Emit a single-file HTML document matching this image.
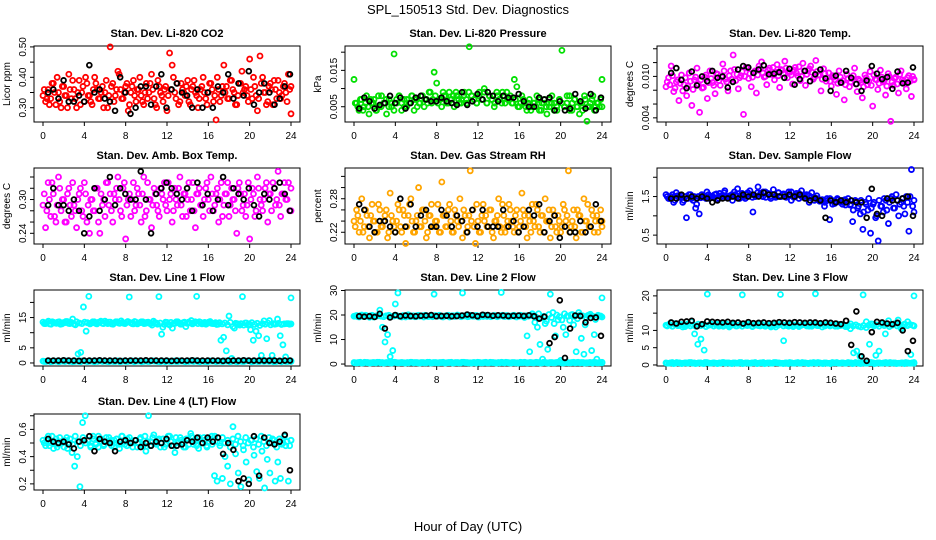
<!DOCTYPE html>
<html><head><meta charset="utf-8"><style>
html,body{margin:0;padding:0;background:#fff}
svg{display:block;font-family:"Liberation Sans",sans-serif}
</style></head><body>
<svg id="chart" width="936" height="540" viewBox="0 0 936 540">
<text x="468" y="14" text-anchor="middle" font-size="13">SPL_150513  Std. Dev. Diagnostics</text>
<text x="468" y="531" text-anchor="middle" font-size="13">Hour of Day (UTC)</text>
</svg>
<script>
const xTicks = [0,4,8,12,16,20,24];
const titles = ["Stan. Dev. Li-820 CO2","Stan. Dev. Li-820 Pressure","Stan. Dev. Li-820 Temp.","Stan. Dev. Amb. Box Temp.","Stan. Dev. Gas Stream RH","Stan. Dev. Sample Flow","Stan. Dev. Line 1 Flow","Stan. Dev. Line 2 Flow","Stan. Dev. Line 3 Flow","Stan. Dev. Line 4 (LT) Flow"];
const yTitles = ["Licor ppm","kPa","degrees C","degrees C","percent","ml/min","ml/min","ml/min","ml/min","ml/min"];
const yDomains = [[0.253,0.503],[0.0008,0.0217],[0.0034,0.0144],[0.221,0.356],[0.199,0.335],[0.27,2.24],[-1,24.1],[-0.8,30.2],[-0.3,21.7],[0.155,0.713]];
const yTicks = [[0.30,0.35,0.40,0.45,0.50],[0.005,0.010,0.015,0.020],[0.004,0.006,0.008,0.010,0.012,0.014],[0.24,0.26,0.28,0.30,0.32,0.34],[0.22,0.24,0.26,0.28,0.30,0.32],[0.5,1.0,1.5,2.0],[0,5,10,15,20],[0,10,20,30],[0,5,10,15,20],[0.2,0.3,0.4,0.5,0.6,0.7]];
const yLabels = [["0.30","","0.40","","0.50"],["0.005","","0.015",""],["0.004","","","0.010","",""],["0.24","","","0.30","",""],["0.22","","","0.28","",""],["0.5","","1.5",""],["0","5","","15",""],["0","10","20","30"],["0","5","10","","20"],["0.2","","0.4","","0.6",""]];
const colors = ["#ff0000","#00e000","#ff00ff","#ff00ff","#ffa500","#0000ff","#00ffff","#00ffff","#00ffff","#00ffff"];

const co2Sd = [0.34,0.32,0.36,0.33,0.38,0.31,0.35,0.30,0.37,0.34,0.41,0.33,0.36,0.30,0.39,0.35,0.32,0.38,0.34,0.31,0.40,0.36,0.33,0.37,0.35,0.30,0.50,0.38,0.34,0.42,0.36,0.33,0.37,0.29,0.35,0.39,0.32,0.36,0.34,0.31,0.38,0.35,0.41,0.33,0.30,0.37,0.34,0.36,0.29,0.48,0.44,0.35,0.38,0.32,0.36,0.34,0.39,0.31,0.37,0.35,0.30,0.36,0.40,0.33,0.35,0.38,0.32,0.26,0.36,0.34,0.44,0.37,0.33,0.39,0.35,0.31,0.38,0.42,0.36,0.34,0.46,0.33,0.37,0.29,0.47,0.40,0.35,0.32,0.38,0.31,0.36,0.39,0.33,0.37,0.35,0.41,0.28];
const co2SdB = [0.36,0.33,0.31,0.38,0.35,0.40,0.32,0.37,0.34,0.30,0.36,0.39,0.33,0.35,0.31,0.37,0.40,0.34,0.32,0.36,0.38,0.33,0.35,0.30,0.39,0.34,0.37,0.32,0.36,0.41,0.33,0.35,0.38,0.31,0.37,0.34,0.36,0.40,0.32,0.35,0.33,0.38,0.36,0.31,0.39,0.35,0.32,0.37,0.34,0.36,0.40,0.33,0.31,0.38,0.35,0.37,0.32,0.36,0.39,0.34,0.33,0.37,0.35,0.31,0.38,0.36,0.34,0.40,0.32,0.37,0.35,0.33,0.39,0.36,0.31,0.34,0.38,0.35,0.37,0.32,0.36,0.40,0.34,0.33,0.38,0.35,0.31,0.37,0.36,0.39,0.33,0.35,0.34,0.38,0.32,0.36,0.37];
const co2Hourly = [0.35,0.36,0.33,0.39,0.32,0.32,0.34,0.32,0.44,0.35,0.36,0.33,0.32,0.29,0.40,0.35,0.28,0.30,0.37,0.37,0.31,0.37,0.41,0.30,0.36,0.38,0.35,0.34,0.30,0.36,0.30,0.35,0.30,0.37,0.35,0.41,0.33,0.38,0.34,0.42,0.31,0.35,0.38,0.35,0.31,0.33,0.37,0.41];
const presSd = [0.0125,0.006,0.004,0.007,0.005,0.008,0.003,0.006,0.007,0.004,0.005,0.008,0.006,0.003,0.007,0.005,0.0195,0.006,0.008,0.004,0.007,0.005,0.006,0.008,0.004,0.007,0.006,0.008,0.005,0.007,0.009,0.006,0.0145,0.0115,0.007,0.005,0.008,0.006,0.009,0.007,0.005,0.008,0.006,0.007,0.009,0.006,0.0215,0.008,0.007,0.006,0.009,0.007,0.010,0.006,0.008,0.007,0.005,0.009,0.007,0.006,0.008,0.009,0.007,0.006,0.0125,0.0105,0.005,0.008,0.006,0.004,0.007,0.005,0.006,0.008,0.004,0.006,0.007,0.003,0.005,0.008,0.006,0.004,0.007,0.0205,0.005,0.006,0.008,0.004,0.007,0.005,0.003,0.006,0.008,0.001,0.005,0.007,0.004,0.006,0.005,0.0125];
const presSdB = [0.006,0.005,0.007,0.004,0.006,0.005,0.007,0.006,0.004,0.008,0.005,0.006,0.007,0.005,0.006,0.004,0.007,0.008,0.006,0.005,0.007,0.006,0.008,0.007,0.005,0.006,0.008,0.007,0.006,0.009,0.007,0.008,0.006,0.007,0.009,0.008,0.006,0.007,0.008,0.009,0.007,0.006,0.008,0.007,0.009,0.008,0.007,0.006,0.008,0.007,0.009,0.006,0.008,0.007,0.006,0.008,0.007,0.009,0.006,0.007,0.008,0.006,0.007,0.005,0.006,0.007,0.005,0.006,0.004,0.006,0.005,0.007,0.004,0.006,0.005,0.007,0.006,0.004,0.005,0.007,0.006,0.005,0.008,0.004,0.006,0.007,0.005,0.006,0.004,0.007,0.005,0.006,0.008,0.005,0.006,0.007,0.005];
const presHourly = [0.0045,0.0075,0.0065,0.0045,0.0055,0.006,0.008,0.006,0.0075,0.0045,0.006,0.0075,0.008,0.007,0.0065,0.0065,0.0075,0.0065,0.006,0.0055,0.009,0.0055,0.0065,0.0085,0.007,0.009,0.008,0.0065,0.008,0.0075,0.0075,0.0085,0.0065,0.005,0.005,0.0075,0.007,0.0075,0.004,0.0065,0.004,0.0045,0.0085,0.0065,0.0045,0.0085,0.004,0.0075];
const tempSd = [0.0085,0.0098,0.0115,0.0078,0.0092,0.0065,0.0102,0.0088,0.0072,0.0105,0.0058,0.0095,0.0112,0.0048,0.0083,0.0099,0.0068,0.0108,0.0091,0.0075,0.0103,0.0087,0.0118,0.0096,0.0079,0.0108,0.0131,0.0094,0.0082,0.0101,0.0045,0.0113,0.0097,0.0085,0.0106,0.0076,0.0115,0.0121,0.0099,0.0088,0.0112,0.0103,0.0095,0.0117,0.0084,0.0109,0.0122,0.0098,0.0106,0.0089,0.0113,0.0101,0.0094,0.0119,0.0087,0.0108,0.0115,0.0096,0.0123,0.0102,0.0079,0.0111,0.0093,0.0105,0.0086,0.0099,0.0074,0.0108,0.0091,0.0066,0.0103,0.0085,0.0097,0.0112,0.0078,0.0094,0.0069,0.0102,0.0088,0.0107,0.0057,0.0096,0.0081,0.0109,0.0092,0.0073,0.0104,0.0035,0.0087,0.0099,0.0076,0.0108,0.0093,0.0082,0.0101,0.0071,0.0095];
const tempSdB = [0.0092,0.0088,0.0101,0.0083,0.0095,0.0090,0.0079,0.0098,0.0086,0.0093,0.0081,0.0099,0.0089,0.0095,0.0084,0.0102,0.0091,0.0097,0.0087,0.0104,0.0094,0.0099,0.0108,0.0092,0.0101,0.0096,0.0110,0.0103,0.0098,0.0107,0.0100,0.0112,0.0104,0.0099,0.0108,0.0102,0.0111,0.0105,0.0100,0.0109,0.0103,0.0113,0.0106,0.0101,0.0110,0.0104,0.0112,0.0107,0.0102,0.0109,0.0105,0.0114,0.0100,0.0108,0.0103,0.0111,0.0106,0.0099,0.0107,0.0102,0.0096,0.0104,0.0098,0.0093,0.0101,0.0095,0.0090,0.0099,0.0094,0.0088,0.0097,0.0092,0.0101,0.0089,0.0096,0.0091,0.0085,0.0098,0.0093,0.0087,0.0102,0.0095,0.0090,0.0099,0.0094,0.0086,0.0100,0.0092,0.0097,0.0089,0.0103,0.0095,0.0091,0.0098,0.0093,0.0100,0.0096];
const tempHourly = [0.0105,0.0112,0.0095,0.0083,0.0107,0.0087,0.0100,0.0093,0.0108,0.0098,0.0100,0.0084,0.0092,0.0110,0.0115,0.0113,0.0105,0.0110,0.0116,0.0103,0.0104,0.0106,0.0098,0.0111,0.0088,0.0096,0.0108,0.0093,0.0103,0.0110,0.0097,0.0079,0.0101,0.0091,0.0108,0.0098,0.0089,0.0079,0.0094,0.0115,0.0104,0.0096,0.0099,0.0082,0.0107,0.0090,0.0091,0.0113];
const boxSd = [0.29,0.25,0.33,0.27,0.31,0.26,0.34,0.28,0.30,0.26,0.32,0.27,0.29,0.25,0.31,0.28,0.33,0.26,0.24,0.30,0.28,0.32,0.24,0.29,0.27,0.33,0.31,0.26,0.30,0.34,0.28,0.32,0.23,0.30,0.27,0.33,0.29,0.31,0.26,0.34,0.28,0.30,0.25,0.32,0.29,0.27,0.31,0.33,0.28,0.30,0.26,0.32,0.29,0.34,0.27,0.31,0.30,0.28,0.33,0.25,0.31,0.29,0.27,0.32,0.30,0.34,0.28,0.31,0.26,0.33,0.29,0.31,0.27,0.32,0.30,0.24,0.33,0.28,0.31,0.29,0.23,0.32,0.27,0.34,0.30,0.28,0.32,0.26,0.31,0.33,0.29,0.35,0.27,0.31,0.30,0.33,0.28];
const boxSdB = [0.31,0.28,0.30,0.33,0.27,0.29,0.32,0.30,0.26,0.31,0.29,0.33,0.28,0.30,0.32,0.27,0.31,0.29,0.30,0.28,0.32,0.26,0.31,0.30,0.33,0.29,0.28,0.31,0.32,0.30,0.27,0.33,0.29,0.31,0.30,0.28,0.32,0.29,0.31,0.27,0.33,0.30,0.29,0.31,0.28,0.32,0.30,0.29,0.33,0.31,0.28,0.30,0.32,0.29,0.31,0.27,0.33,0.30,0.28,0.31,0.32,0.29,0.30,0.33,0.28,0.31,0.29,0.32,0.30,0.27,0.31,0.33,0.29,0.30,0.28,0.32,0.31,0.29,0.27,0.33,0.30,0.31,0.28,0.32,0.29,0.30,0.33,0.31,0.28,0.32,0.30,0.29,0.31,0.33,0.30,0.28,0.32];
const boxHourly = [0.29,0.32,0.29,0.29,0.28,0.30,0.28,0.24,0.27,0.32,0.28,0.30,0.34,0.29,0.32,0.31,0.30,0.30,0.35,0.30,0.24,0.31,0.32,0.33,0.32,0.31,0.30,0.32,0.28,0.33,0.29,0.31,0.28,0.30,0.34,0.29,0.32,0.31,0.30,0.32,0.29,0.27,0.31,0.30,0.32,0.33,0.31,0.28];
const rhSd = [0.24,0.26,0.22,0.28,0.23,0.25,0.21,0.27,0.24,0.22,0.26,0.23,0.25,0.21,0.29,0.24,0.22,0.27,0.23,0.26,0.20,0.25,0.28,0.22,0.24,0.30,0.23,0.26,0.21,0.25,0.27,0.23,0.24,0.22,0.31,0.25,0.23,0.27,0.22,0.26,0.24,0.28,0.21,0.25,0.23,0.33,0.26,0.20,0.24,0.22,0.27,0.25,0.23,0.26,0.21,0.24,0.28,0.22,0.25,0.23,0.27,0.24,0.22,0.26,0.23,0.29,0.25,0.21,0.24,0.27,0.23,0.26,0.22,0.25,0.28,0.24,0.21,0.26,0.23,0.25,0.22,0.27,0.24,0.33,0.23,0.26,0.21,0.25,0.22,0.28,0.24,0.23,0.26,0.22,0.25,0.24,0.23];
const rhSdB = [0.23,0.25,0.24,0.22,0.26,0.23,0.25,0.24,0.22,0.27,0.23,0.24,0.26,0.22,0.25,0.23,0.24,0.26,0.22,0.25,0.23,0.27,0.24,0.22,0.25,0.23,0.26,0.24,0.22,0.25,0.23,0.24,0.27,0.22,0.25,0.23,0.26,0.24,0.22,0.25,0.23,0.24,0.26,0.22,0.25,0.24,0.23,0.27,0.22,0.25,0.24,0.23,0.26,0.22,0.24,0.25,0.23,0.27,0.22,0.24,0.26,0.23,0.25,0.22,0.24,0.26,0.23,0.25,0.22,0.24,0.27,0.23,0.25,0.22,0.24,0.26,0.23,0.25,0.22,0.24,0.23,0.26,0.25,0.22,0.24,0.23,0.26,0.25,0.22,0.24,0.27,0.23,0.25,0.24,0.22,0.26,0.24];
const rhHourly = [0.27,0.26,0.23,0.22,0.24,0.24,0.23,0.22,0.28,0.23,0.27,0.23,0.25,0.26,0.23,0.23,0.26,0.25,0.23,0.25,0.24,0.22,0.26,0.23,0.26,0.23,0.23,0.23,0.26,0.23,0.24,0.22,0.23,0.26,0.25,0.27,0.22,0.24,0.25,0.21,0.23,0.22,0.22,0.24,0.22,0.23,0.27,0.24];
const flowSd = [1.55,1.45,1.50,1.35,1.60,1.48,1.52,1.40,0.95,1.55,1.45,1.50,1.30,1.05,1.55,1.48,1.62,1.45,1.50,1.55,1.42,1.58,1.50,1.65,1.46,1.52,1.40,1.55,1.70,1.48,1.52,1.45,1.60,1.55,1.10,1.50,1.75,1.58,1.62,1.48,1.55,1.45,1.68,1.52,1.60,1.50,1.55,1.48,1.62,1.40,1.52,1.58,1.45,1.65,1.50,1.55,1.35,1.60,1.48,1.52,1.42,1.38,1.25,1.45,0.90,1.40,1.32,1.45,1.38,1.30,1.42,1.35,1.28,0.85,1.40,1.20,1.05,0.65,1.35,1.15,0.55,1.30,0.95,0.35,1.25,1.10,1.40,0.80,1.45,1.20,1.55,1.00,1.35,1.25,1.50,0.60,2.20,1.10];
const flowSdB = [1.50,1.45,1.55,1.40,1.52,1.48,1.35,1.50,1.45,1.55,1.40,1.20,1.50,1.47,1.52,1.45,1.55,1.50,1.48,1.57,1.45,1.52,1.60,1.50,1.48,1.55,1.62,1.52,1.45,1.58,1.50,1.55,1.65,1.48,1.52,1.60,1.55,1.50,1.62,1.58,1.50,1.55,1.48,1.60,1.52,1.57,1.50,1.55,1.62,1.48,1.53,1.58,1.50,1.55,1.45,1.52,1.48,1.40,1.45,1.38,1.42,1.35,1.40,1.45,1.30,1.38,1.42,1.35,1.40,1.28,1.45,1.30,1.15,1.38,1.25,1.40,1.10,1.30,1.45,1.20,1.35,1.00,1.40,1.25,1.45,1.15,1.35,1.50,1.20,1.40,1.30,1.45,1.05,1.35,1.50,1.25,1.40];
const flowHourly = [1.45,1.45,1.55,1.45,1.50,1.45,1.50,1.45,1.35,1.40,1.45,1.45,1.50,1.45,1.55,1.50,1.55,1.50,1.60,1.55,1.55,1.50,1.50,1.55,1.50,1.55,1.45,1.40,1.45,1.40,0.95,1.40,1.35,1.40,1.35,1.40,1.35,1.35,0.95,1.70,1.05,1.00,1.45,1.40,1.40,1.45,1.50,1.00];
const idleSd = [0.6,0.5,0.7,0.5,0.6,0.4,0.6,0.5,0.7,0.6,0.5,0.6,0.4,0.7,0.5,0.6,0.5,0.6,0.7,0.5,0.6,0.4,0.6,0.5,0.7,0.5,0.6,0.5,0.6,0.4,0.6,0.7,0.5,0.6,0.5,0.7,0.6,0.5,0.6,0.4,0.6,0.5,0.7,0.5,0.6,0.5,0.6,0.7,0.5,0.6,0.4,0.6,0.5,0.7,0.6,0.5,0.6,0.5,0.7,0.6,0.5,0.6,0.4,0.6,0.5,0.7,0.6,0.5,0.6,0.5,0.7,0.6,0.5,0.6,0.5,0.6,0.4,0.6,0.5,0.7];
const idleSdB = [0.5,0.6,0.4,0.7,0.6,0.5,0.6,0.7,0.5,0.4,0.6,0.5,0.7,0.6,0.5,0.6,0.4,0.5,0.7,0.6,0.5,0.6,0.5,0.7,0.4,0.6,0.5,0.6,0.7,0.5,0.6,0.4,0.6,0.5,0.7,0.6,0.5,0.4,0.6,0.7,0.5,0.6,0.5,0.7,0.6,0.4,0.5,0.6,0.7,0.5,0.6,0.5,0.4,0.6,0.7,0.5,0.6,0.5,0.6,0.4,0.7,0.5,0.6,0.5,0.6,0.7,0.4,0.6,0.5,0.6,0.5,0.7,0.6,0.4,0.5,0.6,0.7,0.5,0.6,0.5];
const line1Sd = [13.5,13.0,13.8,12.8,13.4,13.1,13.6,12.9,13.3,13.7,13.0,14.5,12.6,3.0,3.5,18.5,10.5,22.0,13.2,13.6,12.9,13.4,13.1,13.8,13.0,13.5,12.8,13.6,13.2,13.9,13.1,13.4,21.8,13.0,13.7,12.9,13.3,13.6,13.1,13.5,13.0,13.8,13.2,21.9,9.5,12.7,13.4,12.5,11.5,13.1,13.6,12.8,13.3,12.0,13.5,14.0,13.2,22.0,13.6,12.9,13.4,13.1,13.7,13.0,13.3,12.8,7.5,8.5,4.0,15.5,1.5,11.5,13.0,12.5,21.9,13.2,12.6,11.0,7.5,10.5,9.0,2.5,13.9,8.0,14.0,2.5,12.8,14.5,9.0,6.0,2.0,13.0,21.5];
const line1SdB = [13.0,13.4,12.9,13.6,13.2,13.5,12.8,13.3,13.7,13.1,13.4,12.9,13.6,13.2,13.0,13.5,13.3,12.9,13.6,13.1,13.4,13.8,13.0,13.3,13.5,12.9,13.2,13.6,13.1,13.4,13.0,13.7,13.3,12.9,13.5,13.2,13.6,13.0,13.4,13.1,12.5,13.3,12.8,13.2,11.8,13.5,12.9,13.4,13.0,13.6,13.2,12.8,13.5,13.1,13.3,12.9,13.6,13.0,13.4,13.2,12.8,13.5,13.1,13.0,12.7,13.3,12.9,13.2,12.6,13.4,12.0,13.1,12.8,13.0,12.5,13.2,12.9,13.3,12.7,13.1,12.4,13.0,12.8,13.2,12.6,13.0,12.9,13.1,12.7,12.9,13.0,12.8,12.9];
const line1Hourly = [0.8,0.8,0.8,0.9,0.8,0.8,0.7,0.8,0.8,0.8,0.9,0.8,0.8,0.8,0.7,0.8,0.8,0.8,0.8,0.9,0.8,0.8,0.8,0.8,0.7,0.8,0.8,0.8,0.9,0.8,0.8,0.8,0.8,0.8,0.7,0.8,0.8,0.8,0.9,0.8,0.8,0.8,0.8,0.8,0.8,0.7,0.8,0.8];
const line2Sd = [19.5,19.8,19.2,20.0,19.4,19.7,19.1,19.9,19.3,19.6,22.0,15.0,9.0,12.0,3.0,5.5,24.5,29.0,19.5,19.8,19.2,20.1,19.4,19.7,19.3,19.9,19.6,19.2,19.8,19.4,19.7,28.5,19.5,19.9,19.3,19.6,19.8,19.2,19.7,19.4,20.0,19.5,29.0,19.6,19.3,19.9,19.5,19.8,19.2,19.7,19.4,19.9,19.6,19.3,19.8,19.5,19.7,29.2,19.4,19.8,19.3,19.6,19.9,19.2,19.5,19.7,19.0,11.5,5.0,20.5,17.0,15.0,8.0,2.0,16.5,6.0,28.5,21.0,11.5,18.0,1.5,15.0,12.0,19.5,20.0,16.0,5.0,21.0,10.5,4.0,19.0,20.0,5.5,12.0,2.0,19.5,27.0];
const line2SdB = [19.6,19.3,19.8,19.5,19.9,19.4,19.7,19.2,19.6,19.8,19.5,19.3,19.7,19.9,19.4,19.6,19.8,19.5,19.2,19.7,19.9,19.4,19.6,19.3,19.8,19.5,19.7,19.9,19.4,19.6,19.3,19.8,19.5,19.7,19.2,19.6,19.9,19.4,19.7,19.5,19.8,19.3,19.6,19.9,19.4,19.7,19.5,19.8,19.2,19.6,19.9,19.4,19.7,19.5,19.8,19.3,19.6,19.9,19.4,19.7,19.5,19.8,19.3,19.6,19.9,19.4,19.7,19.5,19.8,19.6,19.2,20.5,18.8,19.5,17.5,20.2,19.0,16.5,20.0,19.3,18.0,20.5,19.6,17.8,20.2,19.4,18.5,20.0,19.7,16.0,19.8,20.3,19.5,18.2,19.9,19.6,19.2];
const line2Hourly = [19.5,19.3,19.5,19.2,20.5,14.5,19.0,20.0,19.5,19.8,19.6,19.5,19.7,19.8,20.0,19.5,19.6,19.7,19.5,19.6,19.8,20.2,19.9,19.5,20.1,20.0,19.7,19.9,19.8,19.6,19.7,19.8,19.6,19.9,19.5,18.5,19.3,8.5,11.0,26.0,2.5,14.5,19.8,19.6,17.0,18.8,19.0,11.5];
const line3Sd = [11.5,11.8,11.2,12.0,11.4,11.7,11.1,11.9,12.5,9.0,6.0,7.5,4.3,20.5,11.6,11.3,11.8,11.5,11.2,11.9,11.4,11.7,11.3,11.6,20.3,11.5,11.8,11.2,11.7,11.4,11.9,11.3,11.6,11.0,11.5,11.8,20.4,7.0,11.4,11.7,11.1,11.6,11.3,11.8,11.5,11.2,11.7,20.6,11.4,11.9,11.3,11.6,11.5,11.8,11.2,11.7,11.4,11.1,10.5,3.5,4.0,2.5,20.3,12.5,6.0,11.8,2.8,4.0,12.2,9.0,12.8,11.5,12.0,13.0,10.5,11.8,12.5,3.0,20.0];
const line3SdB = [11.3,11.6,11.2,11.8,11.4,11.7,11.0,11.5,11.9,11.3,11.6,11.2,11.8,11.4,11.7,11.1,11.5,11.9,11.3,11.6,11.2,11.8,11.4,11.7,11.0,11.5,11.9,11.3,11.6,11.2,11.8,11.4,11.7,11.1,11.5,11.9,11.3,11.6,11.2,11.8,11.4,11.7,11.0,11.5,11.9,11.3,11.6,11.2,11.8,11.4,11.7,11.1,11.5,11.9,11.3,11.6,11.2,11.8,11.4,11.7,11.0,11.5,11.9,11.3,11.6,11.2,11.8,11.4,11.7,11.1,11.5,11.9,11.3,11.6,11.2,11.0,11.4,10.8,11.5,11.9,11.3,11.6,11.2,11.8,11.4,11.7,11.1,11.5,11.9,11.3,11.6,11.2,11.8,11.4,11.7,11.5,11.3];
const line3Hourly = [12.3,12.0,12.5,12.6,12.8,11.2,11.8,12.6,12.5,12.4,12.3,12.5,12.2,12.3,12.0,12.4,12.1,12.2,12.3,12.1,12.2,12.4,12.3,12.2,12.4,12.3,12.2,12.3,12.3,12.1,12.3,12.2,12.0,11.8,12.8,5.8,15.5,2.5,1.2,9.5,12.5,12.3,12.0,11.8,12.2,10.0,4.0,7.0];
const line4Sd = [0.52,0.48,0.55,0.50,0.46,0.53,0.49,0.51,0.47,0.54,0.50,0.43,0.33,0.40,0.18,0.65,0.70,0.52,0.48,0.55,0.50,0.47,0.53,0.49,0.51,0.54,0.48,0.52,0.50,0.46,0.55,0.49,0.53,0.51,0.47,0.52,0.50,0.54,0.48,0.44,0.70,0.51,0.56,0.49,0.53,0.50,0.47,0.52,0.55,0.48,0.43,0.51,0.54,0.50,0.47,0.53,0.57,0.49,0.52,0.46,0.50,0.54,0.48,0.51,0.55,0.26,0.22,0.50,0.24,0.40,0.33,0.20,0.62,0.42,0.28,0.18,0.45,0.36,0.23,0.52,0.41,0.29,0.24,0.44,0.17,0.38,0.28,0.53,0.22,0.36,0.24,0.50,0.48,0.22,0.52];
const line4SdB = [0.50,0.53,0.48,0.55,0.51,0.47,0.54,0.50,0.52,0.46,0.53,0.49,0.55,0.51,0.48,0.54,0.50,0.52,0.47,0.53,0.49,0.55,0.51,0.48,0.54,0.50,0.52,0.47,0.53,0.49,0.55,0.51,0.48,0.54,0.50,0.52,0.47,0.53,0.49,0.55,0.51,0.48,0.54,0.50,0.52,0.47,0.53,0.49,0.55,0.51,0.48,0.54,0.50,0.52,0.47,0.53,0.49,0.55,0.51,0.48,0.54,0.50,0.52,0.47,0.53,0.49,0.55,0.51,0.48,0.54,0.50,0.52,0.47,0.53,0.49,0.55,0.51,0.48,0.54,0.50,0.52,0.47,0.53,0.49,0.55,0.51,0.48,0.54,0.50,0.52,0.47,0.53,0.49,0.55,0.51,0.48,0.52];
const line4Hourly = [0.53,0.51,0.50,0.51,0.49,0.46,0.51,0.52,0.55,0.44,0.53,0.51,0.50,0.44,0.51,0.52,0.50,0.52,0.47,0.50,0.48,0.51,0.50,0.53,0.48,0.48,0.49,0.52,0.51,0.54,0.50,0.54,0.51,0.54,0.42,0.50,0.45,0.22,0.24,0.20,0.55,0.26,0.54,0.50,0.49,0.51,0.56,0.30];

const colorSeries = [[co2Sd,co2SdB],[presSd,presSdB],[tempSd,tempSdB],[boxSd,boxSdB],[rhSd,rhSdB],[flowSd,flowSdB],[line1Sd,line1SdB,idleSd,idleSdB],[line2Sd,line2SdB,idleSd,idleSdB],[line3Sd,line3SdB,idleSd,idleSdB],[line4Sd,line4SdB]];
const blackSeries = [co2Hourly,presHourly,tempHourly,boxHourly,rhHourly,flowHourly,line1Hourly,line2Hourly,line3Hourly,line4Hourly];

const NS = "http://www.w3.org/2000/svg";
const svg = document.getElementById('chart');
const colLeft = [34,345,657], rowTop = [46,168,290,414], W = 266, H = 76;
function mk(tag, attrs, parent){const e=document.createElementNS(NS,tag);for(const k in attrs)e.setAttribute(k,attrs[k]);parent.appendChild(e);return e;}

titles.forEach((t, p) => {
  const L = colLeft[p%3], T = rowTop[Math.floor(p/3)];
  const g = mk('g', {}, svg);
  
  
  const xs = v => L + 9 + v/24*248;
  const [d0, d1] = yDomains[p];
  const ys = v => T + H - (v - d0)/(d1 - d0)*H;
  const tt = mk('text', {x: L + W/2, y: T - 9, 'text-anchor':'middle', 'font-size':11, 'font-weight':'bold'}, g);
  tt.textContent = t;
  
  
  const box = mk('rect', {x:L, y:T, width:W, height:H, fill:'none', stroke:'#000', 'stroke-width':1}, g);
  
  
  const xa = mk('g', {}, g);
  
  
  mk('line', {x1:xs(0), x2:xs(24), y1:T+H, y2:T+H, stroke:'#000'}, xa);
  xTicks.forEach(v => {
    mk('line', {x1:xs(v), x2:xs(v), y1:T+H, y2:T+H+4, stroke:'#000'}, xa);
    const lb = mk('text', {x:xs(v), y:T+H+17, 'text-anchor':'middle', 'font-size':10}, xa);
    lb.textContent = v;
    
    
  });
  const ya = mk('g', {}, g);
  
  
  const tk = yTicks[p];
  mk('line', {x1:L, x2:L, y1:ys(tk[0]), y2:ys(tk[tk.length-1]), stroke:'#000'}, ya);
  tk.forEach((v, i) => {
    mk('line', {x1:L-4, x2:L, y1:ys(v), y2:ys(v), stroke:'#000'}, ya);
    if (yLabels[p][i]) {
      const lb = mk('text', {x:L-8, y:ys(v), 'text-anchor':'middle', 'font-size':10, transform:`rotate(-90 ${L-8} ${ys(v)})`}, ya);
      lb.textContent = yLabels[p][i];
      
      
    }
  });
  const yt = mk('text', {x:L-24, y:T+H/2, 'text-anchor':'middle', 'font-size':10, transform:`rotate(-90 ${L-24} ${T+H/2})`}, g);
  yt.textContent = yTitles[p];
  
  
  colorSeries[p].forEach((arr, si) => {
    const sg = mk('g', {fill:'none', stroke:colors[p], 'stroke-width':1.8}, g);
    
    
    const n = arr.length, off = (si % 2) ? 0.12 : 0;
    arr.forEach((v, i) => {
      const c = mk('circle', {cx: xs(Math.min(24, i*24/(n-1) + off)), cy: ys(v), r: 2.5}, sg);
      
      
    });
  });
  const bg = mk('g', {fill:'none', stroke:'#000', 'stroke-width':1.8}, g);
  
  
  const bk = blackSeries[p], m = bk.length;
  bk.forEach((v, i) => {
    const c = mk('circle', {cx: xs(0.5 + i*23.4/(m-1)), cy: ys(v), r: 2.4}, bg);
    
    
  });
});
</script>
</body></html>
